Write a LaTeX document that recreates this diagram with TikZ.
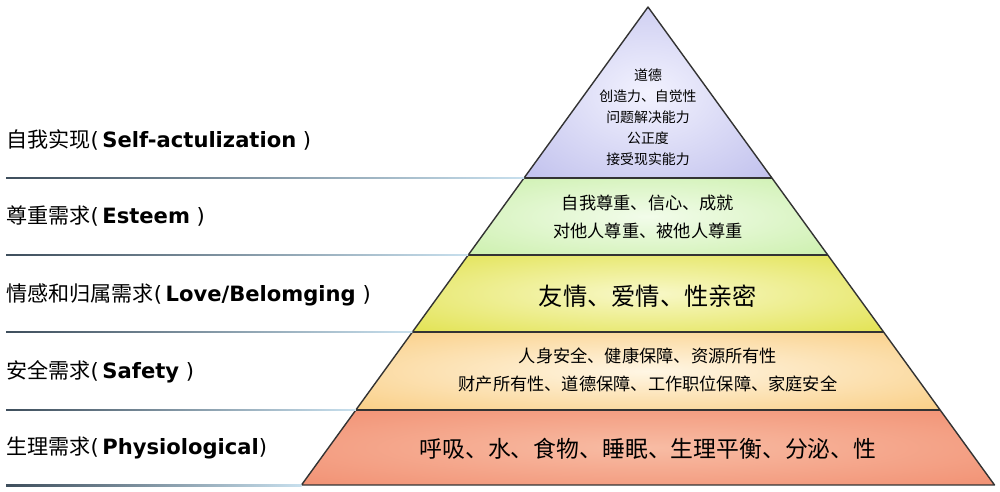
\documentclass[tikz,border=0pt]{standalone}
\usepackage{fontspec}
\setmainfont{DejaVu Sans}
\newfontfamily\cjk{Noto Sans CJK SC}
\usetikzlibrary{calc,positioning}

\definecolor{sepdark}{HTML}{3E4E5C}
\definecolor{seplight}{HTML}{C8E0EE}
\definecolor{selfin}{HTML}{F2F2FE}   \definecolor{selfout}{HTML}{ADADE6}
\definecolor{esteemin}{HTML}{F2FCEA} \definecolor{esteemout}{HTML}{BDEB95}
\definecolor{lovein}{HTML}{F8F8C8}   \definecolor{loveout}{HTML}{D9DA22}
\definecolor{safetyin}{HTML}{FFF6E4} \definecolor{safetyout}{HTML}{F7BE5E}
\definecolor{physin}{HTML}{F8BCA4}   \definecolor{physout}{HTML}{EF8060}
\colorlet{pyrin}{white}
\colorlet{pyrout}{white}
\pgfdeclareradialshading[pyrin,pyrout]{soft}{\pgfpoint{0bp}{0bp}}{color(0bp)=(pyrin); color(50bp)=(pyrout)}

\begin{document}
\begin{tikzpicture}[
  x=0.02cm, y=-0.02cm,
  level/.style={draw=black!80, line width=0.8pt, line join=round},
  tint/.style={/utils/exec={\colorlet{pyrin}{#1in}\colorlet{pyrout}{#1out}}, shading=soft},
  tier/.style={anchor=west, inner sep=0pt, font=\fontsize{12}{14}\selectfont},
  small/.style={align=center, inner sep=0pt, font=\cjk\fontsize{7.9}{11.9}\selectfont},
  mid/.style={align=center, inner sep=0pt, font=\cjk\fontsize{9.8}{15.9}\selectfont},
  big/.style={align=center, inner sep=0pt, font=\cjk\fontsize{13}{16}\selectfont},
  sepline/.style={left color=sepdark, right color=seplight}
]
\useasboundingbox (0,0) rectangle (1000,492);

% pyramid corners and level borders
\coordinate (apex) at (648,7);
\coordinate (bl) at (301.5,485);
\coordinate (br) at (994.5,485);
\foreach \n/\f in {a/0.3577, b/0.5188, c/0.6799, d/0.8431} {
  \coordinate (l\n) at ($(apex)!\f!(bl)$);
  \coordinate (r\n) at ($(apex)!\f!(br)$);
}

% levels
\shade[tint=self] (apex) -- (ra) -- (la) -- cycle;
\shade[tint=esteem] (la) -- (ra) -- (rb) -- (lb) -- cycle;
\shade[tint=love] (lb) -- (rb) -- (rc) -- (lc) -- cycle;
\shade[tint=safety] (lc) -- (rc) -- (rd) -- (ld) -- cycle;
\shade[tint=phys] (ld) -- (rd) -- (br) -- (bl) -- cycle;

\draw[level] (apex) -- (br) -- (bl) -- cycle;
\foreach \n in {a,b,c,d} \draw[level] (l\n) -- (r\n);

% separator lines on the left
\shade[sepline] (6,177.5) rectangle ($(la)+(0,1)$);
\shade[sepline] (6,254.5) rectangle ($(lb)+(0,1)$);
\shade[sepline] (6,331.5) rectangle ($(lc)+(0,1)$);
\shade[sepline] (6,409.5) rectangle ($(ld)+(0,1)$);
\shade[sepline] (6,484.5) rectangle ($(bl)+(0,1.4)$);

% level texts
\node[small] (self_txt) at (648,117) {道德\\创造力、自觉性\\问题解决能力\\公正度\\接受现实能力};
\node[mid] (esteem_txt) at (648,217) {自我尊重、信心、成就\\对他人尊重、被他人尊重};
\node[big, font=\cjk\fontsize{13.8}{16}\selectfont] (love_txt) at (648,296) {友情、爱情、性亲密};
\node[mid] (safety_txt) at (648,370) {人身安全、健康保障、资源所有性\\财产所有性、道德保障、工作职位保障、家庭安全};
\node[big] (phys_txt) at (648,449) {呼吸、水、食物、睡眠、生理平衡、分泌、性};

% labels on the left
\node[tier] (self_lab) at (6,140) {{\cjk 自我实现}(\,\textbf{Self-actulization} )};
\node[tier] (esteem_lab) at (6,216) {{\cjk 尊重需求}(\,\textbf{Esteem} )};
\node[tier] (love_lab) at (6,295) {{\cjk 情感和归属需求}(\,\textbf{Love/Belomging} )};
\node[tier] (safety_lab) at (6,372) {{\cjk 安全需求}(\,\textbf{Safety} )};
\node[tier] (phys_lab) at (6,448) {{\cjk 生理需求}(\,\textbf{Physiological})};

\end{tikzpicture}
\end{document}
